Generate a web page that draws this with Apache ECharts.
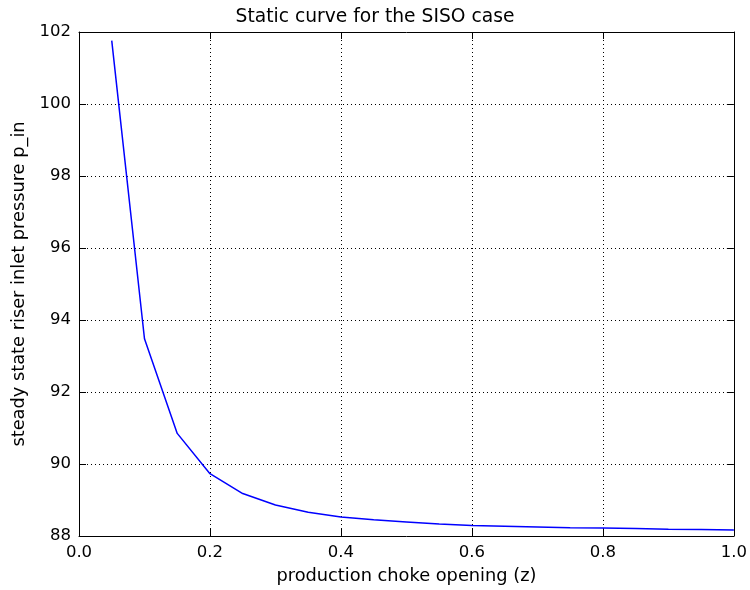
<!DOCTYPE html>
<html>
<head>
<meta charset="utf-8">
<script src="https://cdn.jsdelivr.net/npm/echarts@6/dist/echarts.min.js"></script>
<style>
  html, body { margin: 0; padding: 0; background: #fff; }
  #chart { width: 750px; height: 590px; }
</style>
</head>
<body>
<div id="chart"></div>
<script>
// choke opening z and steady state riser inlet pressure
const zValues = [0.05, 0.1, 0.15, 0.2, 0.25, 0.3, 0.35, 0.4, 0.45, 0.5,
  0.55, 0.6, 0.65, 0.7, 0.75, 0.8, 0.85, 0.9, 0.95, 1.0]
const pIn = [101.76, 93.48, 90.85, 89.73, 89.18, 88.86, 88.66, 88.53, 88.45, 88.39,
  88.33, 88.29, 88.27, 88.25, 88.23, 88.22, 88.21, 88.19, 88.18, 88.17]

const FONT = 'DejaVu Sans'
const C = { line: '#0000ff', axis: '#000', text: '#000' }

const chart = echarts.init(document.getElementById('chart'), null, { renderer: 'canvas' })

const tickIn = { show: true, inside: true, length: 7, lineStyle: { color: C.axis, width: 1 } }
const gridDots = { show: true, lineStyle: { color: '#000', type: [1, 3], width: 1 } }

chart.setOption({
  animation: false,
  textStyle: { fontFamily: FONT, color: C.text },
  title: {
    text: 'Static curve for the SISO case',
    left: 'center',
    top: 3,
    textStyle: { fontFamily: FONT, fontSize: 18.7, fontWeight: 'normal', color: C.text },
  },
  grid: { left: 79, right: 16, top: 32, bottom: 51 },
  xAxis: [
    {
      type: 'value',
      min: 0,
      max: 1,
      interval: 0.2,
      name: 'production choke opening (z)',
      nameLocation: 'middle',
      nameGap: 31,
      nameTextStyle: { fontFamily: FONT, fontSize: 17.8, color: C.text },
      axisLine: { show: true, onZero: false, lineStyle: { color: C.axis, width: 1 } },
      axisTick: tickIn,
      axisLabel: { fontFamily: FONT, fontSize: 16.5, color: C.text, margin: 8, formatter: (v) => v.toFixed(1) },
      splitLine: gridDots,
    },
    {
      type: 'value',
      position: 'top',
      min: 0,
      max: 1,
      interval: 0.2,
      axisLine: { show: true, onZero: false, lineStyle: { color: C.axis, width: 1 } },
      axisTick: tickIn,
      axisLabel: { show: false },
      splitLine: { show: false },
    },
  ],
  yAxis: [
    {
      type: 'value',
      min: 88,
      max: 102,
      interval: 2,
      name: 'steady state riser inlet pressure p_in',
      nameLocation: 'middle',
      nameGap: 50,
      nameTextStyle: { fontFamily: FONT, fontSize: 17.8, color: C.text },
      axisLine: { show: true, onZero: false, lineStyle: { color: C.axis, width: 1 } },
      axisTick: tickIn,
      axisLabel: { fontFamily: FONT, fontSize: 16.5, color: C.text, margin: 8 },
      splitLine: gridDots,
    },
    {
      type: 'value',
      position: 'right',
      min: 88,
      max: 102,
      interval: 2,
      axisLine: { show: true, onZero: false, lineStyle: { color: C.axis, width: 1 } },
      axisTick: tickIn,
      axisLabel: { show: false },
      splitLine: { show: false },
    },
  ],
  series: [
    {
      type: 'line',
      data: zValues.map((z, i) => [z, pIn[i]]),
      showSymbol: false,
      lineStyle: { color: C.line, width: 1.5 },
      itemStyle: { color: C.line },
    },
  ],
})
</script>
</body>
</html>
